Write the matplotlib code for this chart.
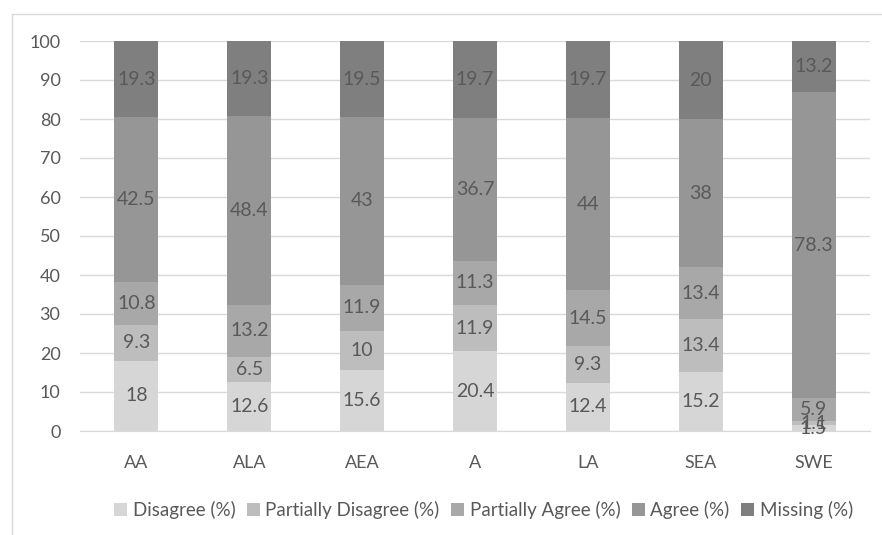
import numpy as np
import matplotlib.pyplot as plt
import matplotlib.patches as patches

categories = ['AA', 'ALA', 'AEA', 'A', 'LA', 'SEA', 'SWE']
series_names = ['Disagree (%)', 'Partially Disagree (%)', 'Partially Agree (%)',
                'Agree (%)', 'Missing (%)']
disagree = [18, 12.6, 15.6, 20.4, 12.4, 15.2, 1.5]
partially_disagree = [9.3, 6.5, 10, 11.9, 9.3, 13.4, 1.1]
partially_agree = [10.8, 13.2, 11.9, 11.3, 14.5, 13.4, 5.9]
agree = [42.5, 48.4, 43, 36.7, 44, 38, 78.3]
missing = [19.3, 19.3, 19.5, 19.7, 19.7, 20, 13.2]
y_ticks = list(range(0, 101, 10))

colors = ['#d6d6d6', '#bdbdbd', '#a8a8a8', '#969696', '#7f7f7f']
plt.rcParams['font.family'] = ['Lato', 'DejaVu Sans']

fig = plt.figure(figsize=(8.82, 5.35), dpi=100)
fig.patch.set_facecolor('white')

# light frame around the chart area
fig.add_artist(patches.Rectangle((12 / 882, -0.1), 1.2, (535 - 14) / 535 + 0.1,
                                 transform=fig.transFigure, fill=False,
                                 edgecolor='#d9d9d9', linewidth=1))

ax = fig.add_axes([80 / 882, 1 - 431 / 535, 790 / 882, 390 / 535])
x = np.arange(len(categories))
bottom = np.zeros(len(categories))
for name, vals, color in zip(series_names,
                             [disagree, partially_disagree, partially_agree, agree, missing],
                             colors):
    vals = np.array(vals, dtype=float)
    bars = ax.bar(x, vals, width=0.39, bottom=bottom, color=color, label=name, zorder=2)
    labels = [f'{v:g}' for v in vals]
    ax.bar_label(bars, labels=labels, label_type='center', fontsize=14, color='#595959')
    bottom += vals

ax.set_xlim(-0.5, len(categories) - 0.5)
ax.set_ylim(0, 100)
ax.set_yticks(y_ticks)
ax.set_xticks(x)
ax.set_xticklabels(categories)
ax.tick_params(length=0, labelsize=13, labelcolor='#595959')
ax.tick_params(axis='y', pad=14)
ax.tick_params(axis='x', pad=17)
ax.grid(axis='y', color='#d9d9d9', linewidth=1, zorder=0)
for side in ['top', 'right', 'left']:
    ax.spines[side].set_visible(False)
ax.spines['bottom'].set_color('#d9d9d9')

fig.legend(loc='center', bbox_to_anchor=(0.548, 1 - 510 / 535), ncol=5, frameon=False,
           fontsize=13.5, labelcolor='#595959', handlelength=0.7, handleheight=0.7,
           handletextpad=0.3, columnspacing=0.6)

fig.savefig('out.png', dpi=100, facecolor='white')
